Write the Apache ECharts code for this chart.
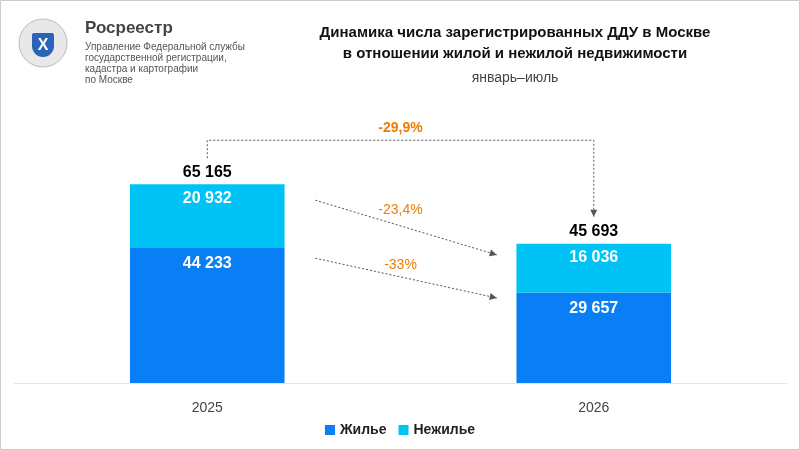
<!DOCTYPE html>
<html><head><meta charset="utf-8">
<script src="https://cdn.jsdelivr.net/npm/echarts@6/dist/echarts.min.js"></script>
<style>html,body{margin:0;padding:0;background:#fff}#c{width:800px;height:450px}</style>
</head><body><div id="c"></div>
<script>
const categories = ['2025', '2026'];
const residential = [44233, 29657];
const nonResidential = [20932, 16036];
const totals = [65165, 45693];
const changeTotal = '-29,9%';
const changeNonRes = '-23,4%';
const changeRes = '-33%';

const fmt = v => String(v).replace(/\B(?=(\d{3})+(?!\d))/g, ' ');
const chart = echarts.init(document.getElementById('c'));
const font = 'Arial, Liberation Sans, sans-serif';
chart.setOption({
  animation: false,
  textStyle: {fontFamily: font},
  title: [{
    text: 'Динамика числа зарегистрированных ДДУ в Москве\nв отношении жилой и нежилой недвижимости',
    left: 510, top: 17, textAlign: 'center',
    textStyle: {fontSize: 15, fontWeight: 'bold', color: '#111', lineHeight: 21, fontFamily: font}
  }, {
    text: 'январь–июль', left: 510, top: 66, textAlign: 'center',
    textStyle: {fontSize: 14, fontWeight: 'normal', color: '#444', fontFamily: font}
  }],
  legend: {
    data: ['Жилье', 'Нежилье'], bottom: 8, left: 'center', itemWidth: 10, itemHeight: 10,
    icon: 'rect', textStyle: {fontSize: 14, fontWeight: 'bold', color: '#222'}, itemGap: 12
  },
  grid: {left: 14, right: 13, top: 139, bottom: 67},
  xAxis: {type: 'category', data: categories,
    axisLine: {lineStyle: {color: '#e4e4e4'}}, axisTick: {show: false},
    axisLabel: {fontSize: 14, color: '#444', margin: 18}},
  yAxis: {type: 'value', min: 0, max: 80000, show: false, splitLine: {show: false}},
  series: [{
    name: 'Жилье', type: 'bar', stack: 's', barWidth: '40%', data: residential,
    itemStyle: {color: '#0a7ff5'},
    label: {show: true, position: 'insideTop', distance: 8, color: '#fff', fontSize: 16, fontWeight: 'bold', formatter: p => fmt(p.value)}
  }, {
    name: 'Нежилье', type: 'bar', stack: 's', barWidth: '40%', data: nonResidential,
    itemStyle: {color: '#00c3f5'},
    label: {show: true, position: 'insideTop', distance: 6, color: '#fff', fontSize: 16, fontWeight: 'bold', formatter: p => fmt(p.value)}
  }, {
    name: 'total', type: 'scatter', data: totals, symbolSize: 0, itemStyle: {opacity: 1},
    label: {show: true, position: 'top', distance: 4, color: '#000', opacity: 1, fontSize: 16, fontWeight: 'bold', formatter: p => fmt(p.value)}
  }]
});

const P = (c, v) => chart.convertToPixel({gridIndex: 0}, [c, v]);
const a0 = P(0, totals[0]), a1 = P(1, totals[1]);
const n0 = P(0, residential[0] + nonResidential[0] * 0.75), n1 = P(1, residential[1] + nonResidential[1] * 0.77);
const r0 = P(0, residential[0] * 0.925), r1 = P(1, residential[1] * 0.94);
const dot = {stroke: '#555', lineWidth: 1, lineDash: [2, 2]};
const topY = a0[1] - 44;
const g = [];
function arrow(x1, y1, x2, y2) {
  g.push({type: 'line', shape: {x1, y1, x2, y2}, style: dot});
  const ang = Math.atan2(y2 - y1, x2 - x1), L = 7, w = 3.5;
  const bx = x2 - L * Math.cos(ang), by = y2 - L * Math.sin(ang);
  g.push({type: 'polygon', shape: {points: [[x2, y2], [bx - w * Math.sin(ang), by + w * Math.cos(ang)], [bx + w * Math.sin(ang), by - w * Math.cos(ang)]]}, style: {fill: '#555'}});
}
g.push({type: 'polyline', shape: {points: [[a0[0], a0[1] - 26], [a0[0], topY], [a1[0], topY], [a1[0], a1[1] - 36]]}, style: Object.assign({fill: null}, dot)});
arrow(a1[0], a1[1] - 36, a1[0], a1[1] - 27);
arrow(n0[0] + 108, n0[1], n1[0] - 97, n1[1]);
arrow(r0[0] + 108, r0[1], r1[0] - 97, r1[1]);
const orange = {fill: '#f07d00', font: 'bold 14px ' + font, textAlign: 'center', textVerticalAlign: 'middle'};
g.push({type: 'text', x: (a0[0] + a1[0]) / 2, y: topY - 12, style: Object.assign({text: changeTotal}, orange)});
g.push({type: 'text', x: (a0[0] + a1[0]) / 2, y: (n0[1] + n1[1]) / 2 - 17, style: Object.assign({text: changeNonRes}, orange, {font: '14px ' + font})});
g.push({type: 'text', x: (a0[0] + a1[0]) / 2, y: (r0[1] + r1[1]) / 2 - 13, style: Object.assign({text: changeRes}, orange, {font: '14px ' + font})});
// logo
g.push({type: 'circle', shape: {cx: 43, cy: 43, r: 24}, style: {fill: '#e8e8e8', stroke: '#bbb'}});
g.push({type: 'rect', shape: {x: 32, y: 33, width: 22, height: 24, r: [2, 2, 11, 11]}, style: {fill: '#2a63b8'}});
g.push({type: 'text', x: 43, y: 46, style: {text: 'X', fill: '#fff', font: 'bold 16px ' + font, textAlign: 'center', textVerticalAlign: 'middle'}});
g.push({type: 'text', x: 85, y: 20, style: {text: 'Росреестр', fill: '#444', font: 'bold 17px ' + font}});
g.push({type: 'text', x: 85, y: 42, style: {text: 'Управление Федеральной службы\nгосударственной регистрации,\nкадастра и картографии\nпо Москве', fill: '#555', font: '10px ' + font, lineHeight: 11}});
g.push({type: 'rect', shape: {x: 0.5, y: 0.5, width: 799, height: 449}, style: {fill: null, stroke: '#ccc'}});
chart.setOption({graphic: g});
</script></body></html>
